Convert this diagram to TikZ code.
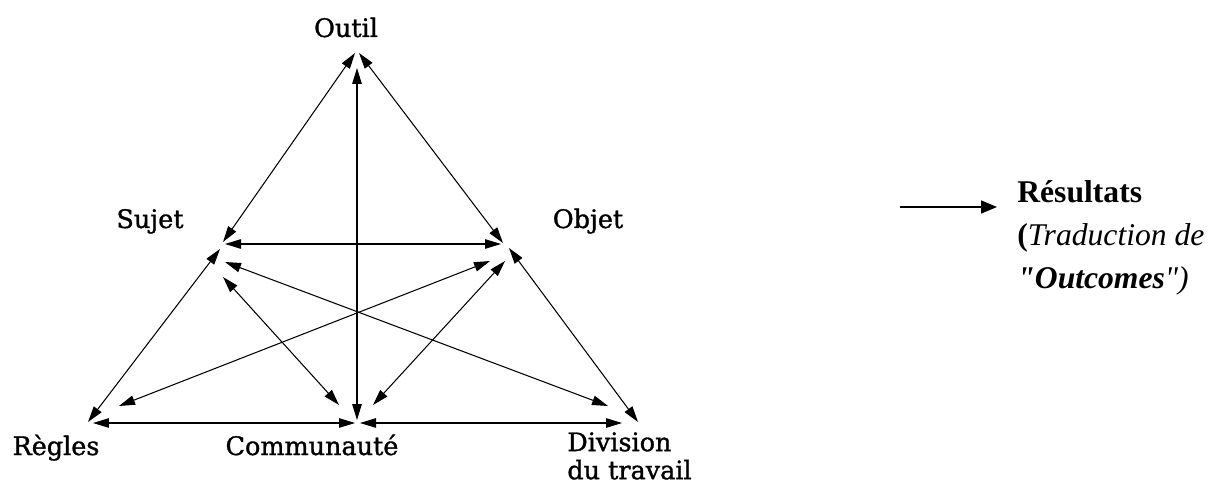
\documentclass[tikz,border=0pt]{standalone}
\usepackage{fontspec}
\setmainfont{Liberation Serif}[
    BoldFont=Liberation Serif Bold,
    ItalicFont=Liberation Serif Italic,
    BoldItalicFont=Liberation Serif Bold Italic]
\newfontfamily\labelfont{DejaVu Serif}[FakeBold=1.2]
\usetikzlibrary{arrows.meta}
\tikzset{
    vertex/.style={font=\labelfont\fontsize{14.5}{16}\selectfont, inner sep=0pt, anchor=base},
    link/.style={{Triangle[length=0.32cm, width=0.19cm]}-{Triangle[length=0.32cm, width=0.19cm]}, line width=0.6pt},
    outarrow/.style={-{Triangle[length=0.32cm, width=0.26cm]}, line width=0.9pt},
    resline/.style={font=\fontsize{18}{21}\selectfont, inner sep=0pt, anchor=base west}
}

\begin{document}
\begin{tikzpicture}[x=0.02cm, y=-0.02cm]
\useasboundingbox (0,0) rectangle (1209,489);

% === VERTICES ===
\coordinate (O) at (357,53);
\coordinate (S) at (222,243);
\coordinate (B) at (503,244);
\coordinate (R) at (88,423);
\coordinate (C) at (357,421);
\coordinate (D) at (638,422);

% === LABELS ===
\node (outil)      [vertex] at (346,37)  {Outil};
\node (sujet)      [vertex] at (150,228) {Sujet};
\node (objet)      [vertex] at (588,228) {Objet};
\node (regles)     [vertex] at (56,455)  {Règles};
\node (communaute) [vertex] at (312,455) {Communauté};
\node (division)   [vertex, anchor=north west, align=left] at (567,432) {Division\\du travail};

% === TRIANGLE ARROWS ===
\draw [link] ([shift={(-2,0)}]O) -- ([shift={(1,-1)}]S);
\draw [link] ([shift={(2,0)}]O) -- ([shift={(0,-1)}]B);
\draw [link] ([shift={(0,15)}]O) -- ([shift={(0,-1)}]C);
\draw [link] ([shift={(3,1)}]S) -- ([shift={(-2,0)}]B);
\draw [link] ([shift={(-2,6)}]S) -- ([shift={(0,-1)}]R);
\draw [link] ([shift={(1,34)}]S) -- ([shift={(-18,-16)}]C);
\draw [link] ([shift={(3,19)}]S) -- ([shift={(-30,-16)}]D);
\draw [link] ([shift={(-13,17)}]B) -- ([shift={(31,-17)}]R);
\draw [link] ([shift={(2,17)}]B) -- ([shift={(16,-16)}]C);
\draw [link] ([shift={(6,4)}]B) -- (D);
\draw [link] ([shift={(5,0)}]R) -- ([shift={(-2,2)}]C);
\draw [link] ([shift={(3,2)}]C) -- ([shift={(-16,1)}]D);

% === OUTCOMES ===
\coordinate (arrowstart) at (900,207);
\node (resultats) [resline] at (1017,203) {\textbf{Résultats}};
\node (traduction) [resline] at (1017,246) {\textbf{(}\textit{Traduction de}};
\node (outcomes) [resline] at (1017,289) {\textbf{\textit{\textquotedbl Outcomes}}\textit{\textquotedbl)}};
\draw [outarrow] (arrowstart) -- (arrowstart -| {(997,0)});

\end{tikzpicture}
\end{document}
